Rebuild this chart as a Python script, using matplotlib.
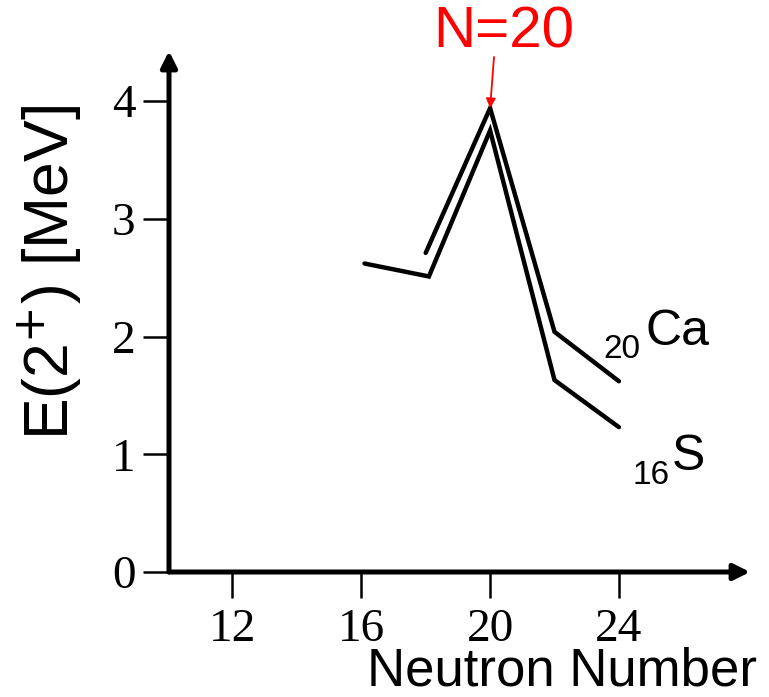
import matplotlib.pyplot as plt

# schematic E(2+) systematics
n_s = [16.1, 18.1, 20, 22, 24]
e_s = [2.62, 2.51, 3.75, 1.63, 1.23]
n_ca = [18, 20, 22, 24]
e_ca = [2.71, 3.94, 2.04, 1.62]

x_ticks = [12, 16, 20, 24]
y_ticks = [0, 1, 2, 3, 4]

fig = plt.figure(figsize=(7.69, 6.97), dpi=100)
ax = fig.add_axes([169 / 769, 125 / 697, (750 - 169) / 769, (572 - 51) / 697])

ax.plot(n_s, e_s, color='black', lw=3.2, solid_capstyle='round', solid_joinstyle='miter')
ax.plot(n_ca, e_ca, color='black', lw=3.2, solid_capstyle='round', solid_joinstyle='miter')

ax.set_xlim(10.03, 28.07)
ax.set_ylim(0, 4.425)
ax.set_xticks(x_ticks)
ax.set_yticks(y_ticks)
for s in ax.spines.values():
    s.set_visible(False)
ax.tick_params(axis='both', direction='out', length=19, width=1.8, color='black',
               labelsize=34)
ax.tick_params(axis='y', pad=5)
ax.tick_params(axis='x', pad=7)
for lab in ax.get_xticklabels() + ax.get_yticklabels():
    lab.set_family('Liberation Serif')

# axis arrows
arrow = dict(arrowstyle='-|>', lw=3.6, color='black', mutation_scale=24,
             shrinkA=0, shrinkB=0)
ax.annotate('', xy=(0, 1), xytext=(0, 0), xycoords='axes fraction', arrowprops=arrow,
            annotation_clip=False)
ax.annotate('', xy=(1, 0), xytext=(0, 0), xycoords='axes fraction', arrowprops=arrow,
            annotation_clip=False)

# labels
fig.text(50 / 769, 1 - 272 / 697, 'E(2$^{+}$) [MeV]', rotation=90, ha='center', va='center',
         fontsize=45, family='Liberation Sans')
fig.text(562 / 769, 1 - 672 / 697, 'Neutron Number', ha='center', va='center',
         fontsize=38, family='Liberation Sans')

ax.text(24.81, 1.93, 'Ca', fontsize=36, family='Liberation Sans', va='baseline')
ax.text(23.51, 1.82, '20', fontsize=24, family='Liberation Sans', va='baseline')
ax.text(25.65, 0.87, 'S', fontsize=36, family='Liberation Sans', va='baseline')
ax.text(24.41, 0.75, '16', fontsize=24, family='Liberation Sans', va='baseline')

fig.text(504 / 769, 1 - 33 / 697, 'N=20', ha='center', va='center', color='red',
         fontsize=42, family='Liberation Sans')
ax.annotate('', xy=(20, e_ca[1]), xytext=(494 / 769, 1 - 57 / 697),
            textcoords='figure fraction',
            arrowprops=dict(arrowstyle='-|>', color='red', lw=1.3, mutation_scale=14,
                            shrinkA=0, shrinkB=0))

fig.savefig('out.png', dpi=100)
